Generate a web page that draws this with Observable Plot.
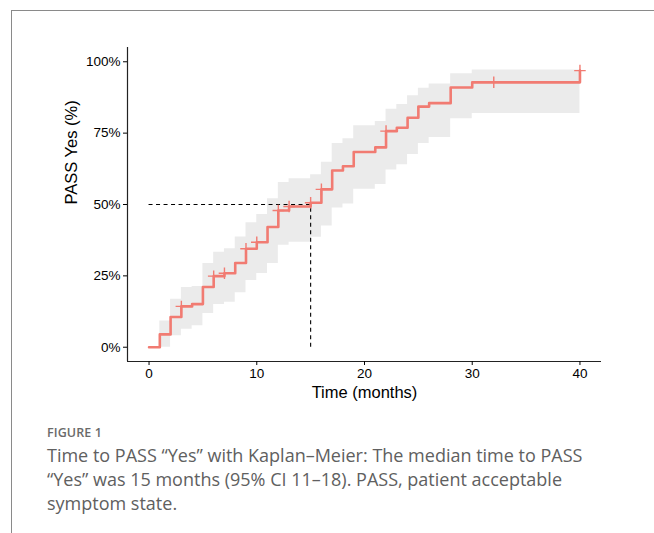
<!DOCTYPE html>
<html>
<head>
<meta charset="utf-8">
<script src="https://cdn.jsdelivr.net/npm/d3@7"></script>
<script src="https://cdn.jsdelivr.net/npm/@observablehq/plot@0.6"></script>
<style>
  html, body { margin: 0; padding: 0; background: #fff; }
  body { width: 654px; height: 533px; position: relative; overflow: hidden; }
  #frame { position: absolute; left: 11px; top: 10px; width: 660px; height: 540px;
           border-top: 1px solid #8a8a8a; border-left: 1px solid #8a8a8a; }
  #chart { position: absolute; left: 0; top: 0; }
  #figlabel { position: absolute; left: 47px; top: 424px; font-family: "Open Sans", sans-serif;
              font-size: 12.5px; font-weight: 600; color: #6a6a6a; letter-spacing: 0.1px; }
  #caption { position: absolute; left: 47px; top: 443px; width: 620px; font-family: "Open Sans", sans-serif;
             font-size: 18px; line-height: 24px; color: #606060; font-weight: 400; }
</style>
</head>
<body>
<div id="frame"></div>
<div id="chart"></div>
<div id="figlabel">FIGURE 1</div>
<div id="caption">Time to PASS “Yes” with Kaplan–Meier: The median time to PASS<br>“Yes” was 15 months (95% CI 11–18). PASS, patient acceptable<br>symptom state.</div>
<script>
// Kaplan–Meier cumulative event curve (percent)
const times = [0, 1, 2, 3, 4, 5, 6, 7, 8, 9, 10, 11, 12, 13, 15, 16, 17, 18, 19, 21, 22, 23, 24, 25, 26, 28, 30, 40];
const estimate = [0, 4.5, 10.6, 14.3, 15.1, 21.1, 24.9, 25.9, 29.5, 34.5, 36.8, 42.1, 47.9, 49.3, 50.6, 55.3, 61.9, 63.4, 68.4, 70.0, 75.7, 76.9, 80.4, 84.3, 85.5, 91.0, 92.8, 96.9];
const upper = [0, 9.2, 16.8, 20.9, 21.3, 29.3, 33.3, 34.5, 38.6, 43.6, 46.5, 52.0, 57.7, 59.0, 60.4, 64.8, 71.4, 73.0, 77.6, 79.1, 83.4, 85.0, 88.1, 90.7, 92.2, 95.8, 97.1, 97.1];
const lower = [0, 0, 4.0, 6.3, 7.5, 11.8, 15.0, 15.8, 19.1, 23.4, 25.8, 29.3, 35.7, 36.8, 38.5, 42.5, 48.8, 50.2, 55.3, 57.0, 62.1, 63.9, 67.5, 71.4, 73.5, 80.0, 81.9, 81.9];
const censorTimes = [3, 6, 7, 9, 10, 12, 13, 15, 16, 22, 32, 40];
const medianTime = 15;
const medianLevel = 50;
const xTicks = [0, 10, 20, 30, 40];
const yTicks = [0, 25, 50, 75, 100];

const km = times.map((t, i) => ({t, est: estimate[i], lo: lower[i], hi: upper[i]}));
const stepAt = (t) => { let v = 0; for (const d of km) if (d.t <= t) v = d.est; return v; };
const censors = censorTimes.map(t => ({t, est: stepAt(t)}));

const col = "#F17B72";
const plot = Plot.plot({
  width: 654,
  height: 410,
  marginLeft: 127,
  marginRight: 53,
  marginTop: 47,
  marginBottom: 49,
  style: {fontFamily: "'Liberation Sans', Arial, sans-serif", fontSize: "13.5px", color: "#000", background: "transparent"},
  x: {domain: [-2, 42], ticks: xTicks, tickSize: 4, tickPadding: 3, label: null},
  y: {domain: [-5, 105], ticks: yTicks, tickSize: 4, tickPadding: 3, tickFormat: d => d + "%", label: null},
  marks: [
    Plot.areaY(km, {x: "t", y1: "lo", y2: "hi", curve: "step-after", fill: "#ebebeb"}),
    Plot.ruleY([medianLevel], {x1: 0, x2: medianTime, stroke: "#000", strokeWidth: 1.1, strokeDasharray: "4,3.5"}),
    Plot.ruleX([medianTime], {y1: 0, y2: medianLevel, stroke: "#000", strokeWidth: 1.1, strokeDasharray: "4,3.5"}),
    Plot.lineY(km, {x: "t", y: "est", curve: "step-after", stroke: col, strokeWidth: 2.6}),
    Plot.dot(censors, {x: "t", y: "est", symbol: "plus", r: 3.8, stroke: col, strokeWidth: 1.4}),
    Plot.ruleX([-2], {stroke: "#222", strokeWidth: 1.2}),
    Plot.ruleY([-5], {stroke: "#222", strokeWidth: 1.2}),
    Plot.axisX({ticks: xTicks, tickSize: 4, tickPadding: 3, fontSize: 13.5, label: null}),
    Plot.axisY({ticks: yTicks, tickSize: 4, tickPadding: 3, fontSize: 13.5, tickFormat: d => d + "%", label: null}),
    Plot.text(["Time (months)"], {frameAnchor: "bottom", dy: 36, fontSize: 16.5, fill: "#000"}),
    Plot.text(["PASS Yes (%)"], {frameAnchor: "left", dx: -56, rotate: -90, fontSize: 16.5, fill: "#000"})
  ]
});
document.getElementById("chart").appendChild(plot);
</script>
</body>
</html>
